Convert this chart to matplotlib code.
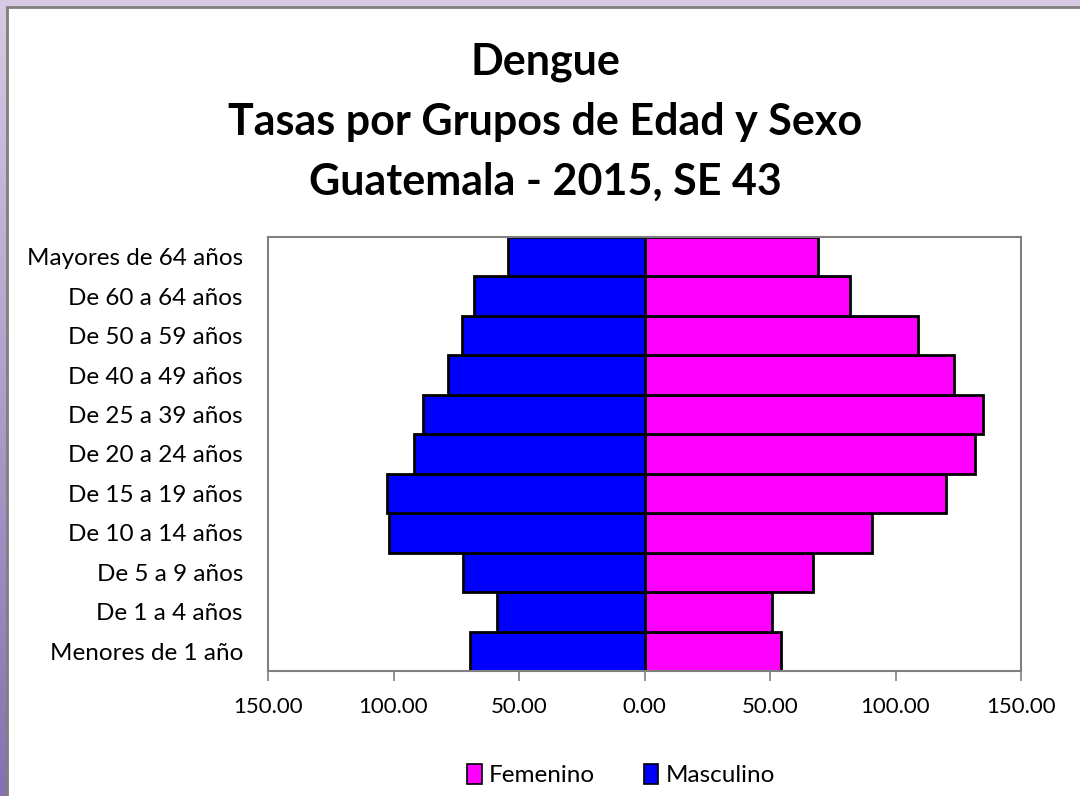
import matplotlib
matplotlib.use("Agg")
import matplotlib.pyplot as plt
import numpy as np
from matplotlib.patches import Rectangle, Patch
from matplotlib.ticker import FuncFormatter

plt.rcParams["font.family"] = ["Lato", "DejaVu Sans"]

# Age groups, bottom to top
age_groups = [
    "Menores de 1 año",
    "De 1 a 4 años",
    "De 5 a 9 años",
    "De 10 a 14 años",
    "De 15 a 19 años",
    "De 20 a 24 años",
    "De 25 a 39 años",
    "De 40 a 49 años",
    "De 50 a 59 años",
    "De 60 a 64 años",
    "Mayores de 64 años",
]
femenino = [54.3, 50.6, 67.1, 90.7, 120.2, 131.7, 134.9, 123.2, 108.9, 81.8, 69.3]
masculino = [69.5, 58.7, 72.3, 101.8, 102.4, 91.8, 88.3, 78.2, 72.9, 67.8, 54.3]
x_ticks = [-150, -100, -50, 0, 50, 100, 150]
title_lines = ["Dengue", "Tasas por Grupos de Edad y Sexo", "Guatemala - 2015, SE 43"]

W, H = 1080, 796
fig = plt.figure(figsize=(W / 100, H / 100), dpi=100)

# purple gradient background with the white chart panel on top
bg = fig.add_axes([0, 0, 1, 1], zorder=-10)
grad = np.linspace(0, 1, 256).reshape(-1, 1)
top = np.array([0.85, 0.79, 0.89])
bottom = np.array([0.53, 0.44, 0.69])
img = top + (bottom - top) * grad[:, :, None]
bg.imshow(img, aspect="auto", extent=[0, 1, 0, 1], origin="upper")
bg.add_patch(Rectangle((7 / W, -0.01), 1.0, 1 - 7 / H + 0.01, transform=bg.transAxes,
                       facecolor="white", edgecolor="#7f7f7f", linewidth=2))
bg.set_xlim(0, 1)
bg.set_ylim(0, 1)
bg.set_axis_off()

ax = fig.add_axes([268 / W, 1 - 671 / H, (1021 - 268) / W, (671 - 237) / H])
y = np.arange(len(age_groups))
ax.barh(y, femenino, height=1.0, color="#ff00ff", edgecolor="black", linewidth=2, label="Femenino")
ax.barh(y, [-v for v in masculino], height=1.0, color="#0000ff", edgecolor="black", linewidth=2,
        label="Masculino")

ax.set_xlim(-150, 150)
ax.set_ylim(-0.5, len(age_groups) - 0.5)
ax.set_xticks(x_ticks)
ax.xaxis.set_major_formatter(FuncFormatter(lambda v, p: f"{abs(v):.2f}"))
ax.set_yticks(y)
ax.set_yticklabels(age_groups)
ax.tick_params(axis="x", direction="out", length=7, width=1.2, color="#808080", labelsize=16, pad=12)
ax.tick_params(axis="y", length=0, labelsize=17.5, pad=18)
for s in ax.spines.values():
    s.set_color("#808080")
    s.set_linewidth(1.5)

for i, line in enumerate(title_lines):
    fig.text(0.505, 1 - (62 + 60 * i) / H, line, ha="center", va="center",
             fontsize=31, fontweight="bold")

handles = [Patch(facecolor="#ff00ff", edgecolor="black", linewidth=1.2, label="Femenino"),
           Patch(facecolor="#0000ff", edgecolor="black", linewidth=1.2, label="Masculino")]
fig.legend(handles=handles, loc="center", bbox_to_anchor=(0.575, 1 - 775 / H), ncol=2,
           frameon=False, fontsize=17.5, handlelength=0.6, handleheight=0.9, handletextpad=0.3,
           columnspacing=2.0)

fig.savefig("out.png", dpi=100)
